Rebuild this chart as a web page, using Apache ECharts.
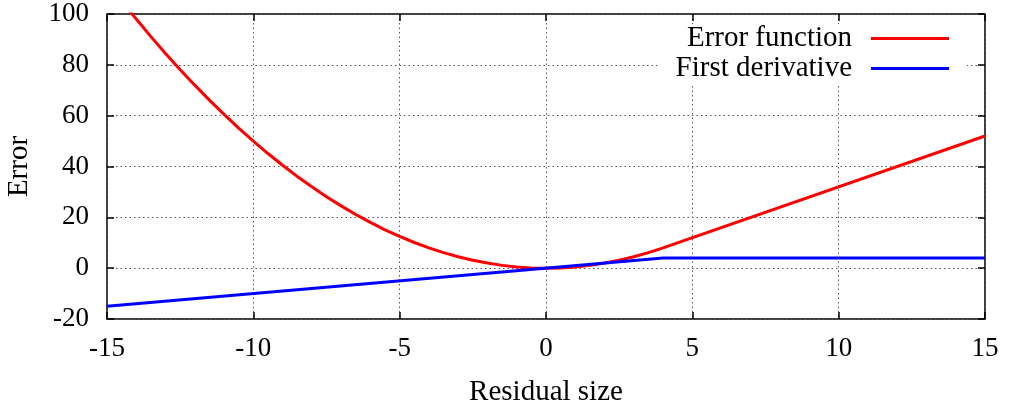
<!DOCTYPE html>
<html>
<head>
    <meta charset="utf-8">
    <title>Error function</title>
    <script src="https://cdn.jsdelivr.net/npm/echarts@6/dist/echarts.min.js"></script>
</head>
<body style="margin:0">
    <div id="main" style="width: 1011px;height:408px;"></div>
    <script type="text/javascript">

    // values
    var errX = [-15, -14.5, -14, -13.5, -13, -12.5, -12, -11.5, -11, -10.5, -10, -9.5, -9, -8.5, -8, -7.5, -7, -6.5, -6, -5.5, -5, -4.5, -4, -3.5, -3, -2.5, -2, -1.5, -1, -0.5, 0, 0.5, 1, 1.5, 2, 2.5, 3, 3.5, 4, 15];
    var errY = [112.5, 105.1, 98, 91.1, 84.5, 78.1, 72, 66.1, 60.5, 55.1, 50, 45.1, 40.5, 36.1, 32, 28.1, 24.5, 21.1, 18, 15.1, 12.5, 10.1, 8, 6.1, 4.5, 3.1, 2, 1.1, 0.5, 0.1, 0, 0.1, 0.5, 1.1, 2, 3.1, 4.5, 6.1, 8, 52];
    var derX = [-15, 4, 15];
    var derY = [-15, 4, 4];
    var names = ['Error function', 'First derivative'];
    var xTicks = [-15, 15, 5];
    var yTicks = [-20, 100, 20];

    function pairs(xs, ys) {
        var out = [];
        for (var i = 0; i < xs.length; i++) out.push([xs[i], ys[i]]);
        return out;
    }

    var font = 'Liberation Serif';
    var dotted = {show: true, lineStyle: {color: '#555', type: [1.5, 3], width: 1}};
    var tick = {show: true, inside: true, length: 7, lineStyle: {color: '#000', width: 1.5}};
    var noLine = {show: false, onZero: false};
    var myChart = echarts.init(document.getElementById('main'));

option = {
    animation: false,
    textStyle: {fontFamily: font},
    grid: {left: 107, right: 26, top: 14, bottom: 89, containLabel: false, outerBoundsMode: 'none',
           show: true, borderColor: '#000', borderWidth: 1.5},
    legend: {
        orient: 'vertical',
        right: 44,
        top: 24,
        align: 'right',
        itemWidth: 78,
        itemHeight: 3,
        itemGap: 1,
        padding: [0, 18, 0, 18],
        backgroundColor: '#fff',
        icon: 'rect',
        textStyle: {fontFamily: font, fontSize: 29, color: '#000', padding: [0, 14, 0, 0]},
        data: names
    },
    xAxis: [{
        type: 'value',
        min: xTicks[0], max: xTicks[1], interval: xTicks[2],
        name: 'Residual size', nameLocation: 'middle', nameGap: 59,
        nameTextStyle: {fontFamily: font, fontSize: 29, color: '#000'},
        axisLine: noLine,
        axisTick: tick,
        axisLabel: {fontFamily: font, fontSize: 27, color: '#000', margin: 16},
        splitLine: dotted
    }, {
        type: 'value', position: 'top',
        min: xTicks[0], max: xTicks[1], interval: xTicks[2],
        axisLine: noLine,
        axisTick: tick,
        axisLabel: {show: false},
        splitLine: {show: false}
    }],
    yAxis: [{
        type: 'value',
        min: yTicks[0], max: yTicks[1], interval: yTicks[2],
        name: 'Error', nameLocation: 'middle', nameGap: 73, nameRotate: 90,
        nameTextStyle: {fontFamily: font, fontSize: 29, color: '#000'},
        axisLine: noLine,
        axisTick: tick,
        axisLabel: {fontFamily: font, fontSize: 27, color: '#000', margin: 18},
        splitLine: dotted
    }, {
        type: 'value', position: 'right',
        min: yTicks[0], max: yTicks[1], interval: yTicks[2],
        axisLine: noLine,
        axisTick: tick,
        axisLabel: {show: false},
        splitLine: {show: false}
    }],
    series: [{
        name: names[0], type: 'line', showSymbol: false, clip: true,
        color: '#ff0000', lineStyle: {width: 3, color: '#ff0000'},
        data: pairs(errX, errY)
    }, {
        name: names[1], type: 'line', showSymbol: false, clip: true,
        color: '#0000ff', lineStyle: {width: 3, color: '#0000ff'},
        data: pairs(derX, derY)
    }]
};
    myChart.setOption(option);
    </script>
</body>
</html>
